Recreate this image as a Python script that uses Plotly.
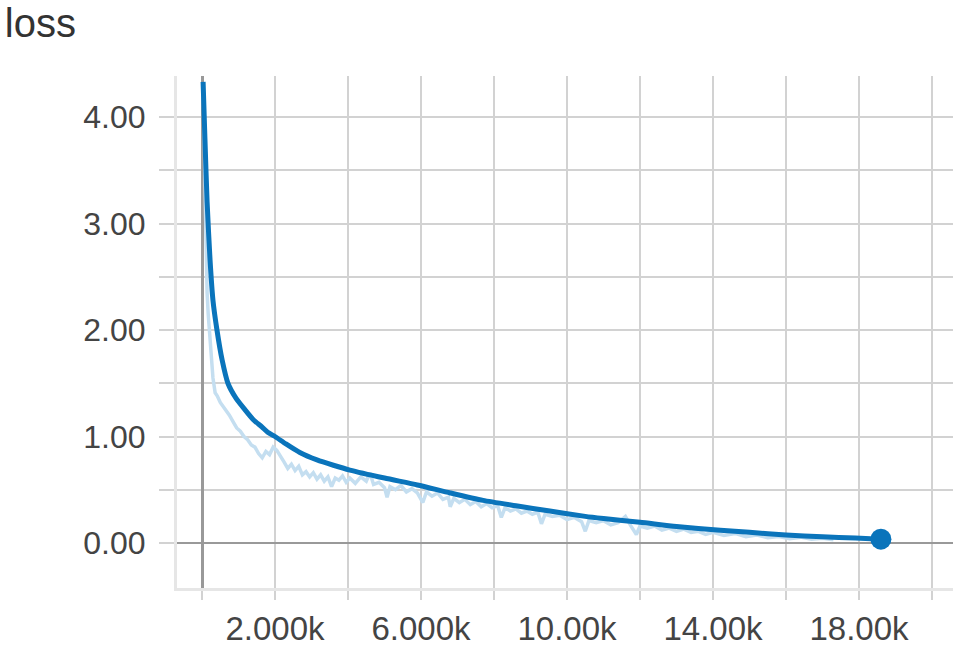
import plotly.graph_objects as go

# ---- data ----
smooth_steps = [30, 80, 140, 220, 300, 410, 550, 710, 930, 1180, 1400, 1640, 1800, 2000, 2300, 2680,
                3150, 3600, 4050, 5000, 5900, 6800, 7700, 8600, 9530, 10500, 11000, 12000,
                13000, 14200, 15000, 16000, 17000, 17900, 18600]
smooth_loss = [4.33, 3.80, 3.20, 2.66, 2.28, 2.00, 1.72, 1.50, 1.36, 1.25, 1.16, 1.09, 1.04, 1.00, 0.93, 0.85,
               0.78, 0.73, 0.685, 0.61, 0.545, 0.47, 0.40, 0.35, 0.30, 0.25, 0.23, 0.195,
               0.155, 0.12, 0.10, 0.075, 0.058, 0.047, 0.036]

raw_steps = [20, 50, 80, 110, 140, 170, 210, 250, 300, 360, 420, 500, 580, 660, 750, 850, 950,
             1050, 1150, 1250, 1350, 1450, 1550, 1650, 1750, 1850, 1950, 2050, 2150, 2250,
             2350, 2450, 2550, 2650, 2750, 2850, 2950, 3050, 3150, 3250, 3350, 3450, 3550,
             3650, 3750, 3850, 3950, 4050, 4200, 4350, 4500, 4600, 4700, 4850, 5000, 5070,
             5150, 5300, 5450, 5600, 5750, 5900, 6050, 6150, 6300, 6450, 6600, 6750, 6800,
             6900, 7050, 7200, 7350, 7500, 7650, 7800, 7950, 8100, 8200, 8300, 8450, 8600,
             8750, 8900, 9050, 9200, 9300, 9400, 9600, 9800, 10000, 10200, 10400, 10500,
             10600, 10800, 11000, 11200, 11400, 11600, 11750, 11900, 12000, 12200, 12400,
             12600, 12800, 13000, 13200, 13400, 13600, 13800, 14000, 14300, 14600, 14900,
             15200, 15500, 15800, 16100, 16400, 16700, 17000, 17300]
raw_loss = [4.30, 4.05, 3.40, 2.75, 2.35, 2.15, 1.95, 1.72, 1.55, 1.41, 1.38, 1.32, 1.28, 1.25,
            1.20, 1.14, 1.08, 1.05, 1.00, 0.97, 0.92, 0.90, 0.84, 0.80, 0.86, 0.83, 0.90,
            0.87, 0.82, 0.76, 0.70, 0.74, 0.68, 0.72, 0.64, 0.67, 0.62, 0.66, 0.60, 0.64,
            0.58, 0.62, 0.53, 0.61, 0.59, 0.63, 0.57, 0.61, 0.56, 0.62, 0.58, 0.66, 0.55,
            0.57, 0.52, 0.43, 0.53, 0.50, 0.54, 0.48, 0.51, 0.47, 0.38, 0.48, 0.44, 0.47,
            0.41, 0.43, 0.34, 0.42, 0.38, 0.41, 0.36, 0.39, 0.34, 0.37, 0.33, 0.35, 0.24,
            0.33, 0.30, 0.32, 0.28, 0.30, 0.27, 0.29, 0.18, 0.27, 0.25, 0.26, 0.22, 0.24,
            0.20, 0.11, 0.21, 0.19, 0.21, 0.17, 0.19, 0.25, 0.16, 0.08, 0.16, 0.14, 0.16,
            0.12, 0.14, 0.11, 0.13, 0.10, 0.11, 0.08, 0.10, 0.07, 0.09, 0.06, 0.075, 0.05,
            0.06, 0.04, 0.055, 0.035, 0.045, 0.03]

x_tickvals = [2000, 6000, 10000, 14000, 18000]
x_ticktext = ["2.000k", "6.000k", "10.00k", "14.00k", "18.00k"]
y_tickvals = [0, 1, 2, 3, 4]
y_ticktext = ["0.00", "1.00", "2.00", "3.00", "4.00"]

BLUE = "#0a74bb"
LIGHT = "#c4def0"
GRID = "#d2d2d2"
FONT = "Liberation Sans, Arial, sans-serif"

fig = go.Figure()
fig.add_trace(go.Scatter(x=raw_steps, y=raw_loss, mode="lines",
                         line=dict(color=LIGHT, width=3.5), showlegend=False))
fig.add_trace(go.Scatter(x=smooth_steps, y=smooth_loss, mode="lines", line_shape="spline",
                         line=dict(color=BLUE, width=5, smoothing=0.6), showlegend=False))
fig.add_trace(go.Scatter(x=[smooth_steps[-1]], y=[smooth_loss[-1]], mode="markers",
                         marker=dict(color=BLUE, size=21), showlegend=False))

fig.update_layout(
    width=957, height=646,
    margin=dict(l=177, r=4, t=76, b=58, autoexpand=False),
    paper_bgcolor="white", plot_bgcolor="white",
    title=dict(text="loss", x=0.005, xanchor="left", y=0.986, yanchor="top",
               pad=dict(l=0, t=0),
               font=dict(family=FONT, size=40, color="#333333")),
    font=dict(family=FONT, color="#444444"),
)
fig.update_xaxes(
    range=[-685, 20575], automargin=False,
    tickmode="array", tickvals=x_tickvals, ticktext=x_ticktext,
    tickfont=dict(size=33, color="#444444"),
    showgrid=True, gridcolor=GRID, gridwidth=2,
    ticks="outside", ticklen=9, tickwidth=2, tickcolor=GRID,
    minor=dict(tickmode="linear", tick0=0, dtick=2000, showgrid=True,
               gridcolor=GRID, gridwidth=2, ticks="outside", ticklen=9,
               tickwidth=2, tickcolor=GRID),
    zeroline=True, zerolinecolor="#999999", zerolinewidth=3,
    showline=True, linecolor="#e6e6e6", linewidth=3,
    ticklabelstandoff=0,
)
fig.update_yaxes(
    range=[-0.4225, 4.385], automargin=False,
    tickmode="array", tickvals=y_tickvals, ticktext=y_ticktext,
    tickfont=dict(size=32, color="#444444"),
    showgrid=True, gridcolor=GRID, gridwidth=2,
    ticks="outside", ticklen=15, tickwidth=2, tickcolor=GRID,
    minor=dict(tickmode="linear", tick0=0, dtick=0.5, showgrid=True,
               gridcolor=GRID, gridwidth=2, ticks="outside", ticklen=15,
               tickwidth=2, tickcolor=GRID),
    zeroline=True, zerolinecolor="#999999", zerolinewidth=2,
    showline=True, linecolor="#e6e6e6", linewidth=3,
    ticklabelstandoff=7,
)

fig.write_html("out.html", config={"displayModeBar": False},
               post_script="document.body.style.margin='0px';document.body.style.overflow='hidden';")
